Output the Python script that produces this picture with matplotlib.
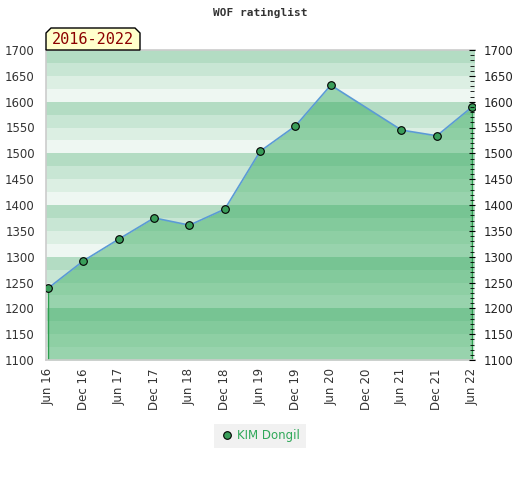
import numpy as np
import matplotlib.pyplot as plt
from matplotlib.lines import Line2D
from matplotlib.patches import Polygon

periods = ["Jun 16", "Dec 16", "Jun 17", "Dec 17", "Jun 18", "Dec 18", "Jun 19",
           "Dec 19", "Jun 20", "Dec 20", "Jun 21", "Dec 21", "Jun 22"]
rated_idx = [0, 1, 2, 3, 4, 5, 6, 7, 8, 10, 11, 12]
ratings = [1239, 1292, 1334, 1375, 1361, 1392, 1504, 1553, 1632, 1545, 1534, 1590]
yticks = [1100, 1150, 1200, 1250, 1300, 1350, 1400, 1450, 1500, 1550, 1600, 1650, 1700]
player = "KIM Dongil"
span = "2016-2022"

W, H = 520, 480
fig = plt.figure(figsize=(5.2, 4.8), dpi=100)
ax = fig.add_axes([46 / W, 1 - 360 / H, 429 / W, 310 / H])

# striped background, 4 stripes per 100 points
stripe_cols = ["#eef7f2", "#dcefe3", "#c8e6d4", "#b3dcc3"]
for k, lo in enumerate(range(1100, 1700, 25)):
    ax.axhspan(lo, lo + 25, color=stripe_cols[k % 4], lw=0, zorder=0)

x = np.array(rated_idx)
y = np.array(ratings)
ax.fill_between(x, y, 1100, color="#2fa859", alpha=0.45, lw=0, zorder=1)
ax.vlines([x[0], x[-1]], 1100, [y[0], y[-1]], color="#2e9e4f", lw=1, zorder=2)
ax.plot(x, y, color="#5b9bd5", lw=1.2, zorder=3)
ax.plot(x, y, "o", ms=5.5, mfc="#3a9e5a", mec="black", mew=0.8, zorder=4)

ax.set_xlim(-0.06, 12.08)
ax.set_ylim(1100, 1700)
ax.set_xticks(range(len(periods)))
ax.set_xticklabels(periods, rotation=90, fontsize=8.5, color="#333333")
ax.set_yticks(yticks)
ax.tick_params(axis="y", length=0, labelsize=8.5, labelcolor="#333333", pad=8)
ax.tick_params(axis="x", length=0, pad=6)
for s in ["left", "bottom", "top"]:
    ax.spines[s].set_color("#cccccc")
    ax.spines[s].set_linewidth(1.2)
ax.spines["right"].set_visible(False)

ax2 = ax.twinx()
ax2.set_ylim(1100, 1700)
ax2.set_yticks(yticks)
ax2.set_yticks(np.arange(1100, 1701, 10), minor=True)
ax2.tick_params(axis="y", which="major", length=4, direction="inout", labelsize=8.5,
                labelcolor="#222222", pad=6)
ax2.tick_params(axis="y", which="minor", length=3, direction="inout")
for s in ax2.spines.values():
    s.set_visible(False)
ax2.spines["right"].set_position(("data", 12.0))

fig.text(0.5, 1 - 13 / H, "WOF ratinglist", ha="center", va="center",
         family="DejaVu Sans Mono", fontweight="bold", fontsize=8, color="#333333")

# period label box with cut top corners
x0, x1, yt, yb, c = 46, 140, 28, 50, 5
pts = [(x0, yb), (x0, yt + c), (x0 + c, yt), (x1 - c, yt), (x1, yt + c), (x1, yb)]
box = Polygon([(px / W, 1 - py / H) for px, py in pts], closed=True,
              transform=fig.transFigure, fc="#ffffcc", ec="black", lw=1, zorder=5)
fig.patches.append(box)
fig.text((x0 + x1) / 2 / W, 1 - 40 / H, span, ha="center", va="center", fontsize=11,
         color="#8b0000", family="DejaVu Sans Mono", zorder=6)

handle = Line2D([], [], ls="none", marker="o", ms=5.5, mfc="#3a9e5a", mec="black", mew=0.8)
leg = fig.legend([handle], [player], loc="center", bbox_to_anchor=(260 / W, 1 - 436 / H),
                 frameon=True, fontsize=8.5, handletextpad=0.3, borderpad=0.5, fancybox=False,
                 handlelength=1.2)
leg.get_frame().set_facecolor("#eeeeee")
leg.get_frame().set_edgecolor("none")
for t in leg.get_texts():
    t.set_color("#2fa859")

fig.savefig("out.png", dpi=100)
